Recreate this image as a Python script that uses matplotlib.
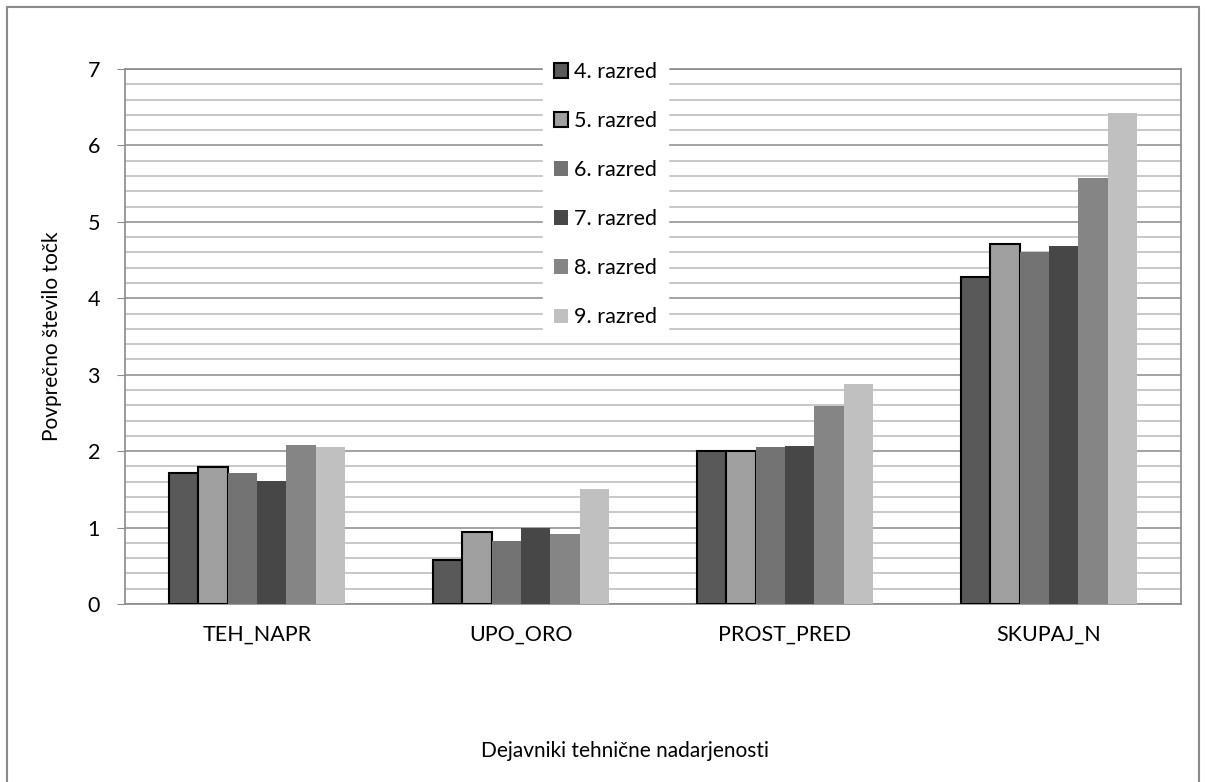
import matplotlib.pyplot as plt
import numpy as np
from matplotlib.patches import Rectangle
from matplotlib.ticker import MultipleLocator

plt.rcParams['font.family'] = ['Lato', 'DejaVu Sans']

# Categories and mean scores per grade
categories = ['TEH_NAPR', 'UPO_ORO', 'PROST_PRED', 'SKUPAJ_N']
grades = ['4. razred', '5. razred', '6. razred', '7. razred', '8. razred', '9. razred']
razred4 = [1.72, 0.58, 2.00, 4.28]
razred5 = [1.79, 0.94, 2.00, 4.71]
razred6 = [1.72, 0.82, 2.05, 4.60]
razred7 = [1.61, 1.00, 2.07, 4.69]
razred8 = [2.08, 0.92, 2.59, 5.58]
razred9 = [2.05, 1.50, 2.88, 6.43]
series = [razred4, razred5, razred6, razred7, razred8, razred9]

colors = ['#595959', '#a0a0a0', '#737373', '#474747', '#858585', '#c0c0c0']
outlined = [True, True, False, False, False, False]

fig = plt.figure(figsize=(12.06, 7.82), dpi=100)
ax = fig.add_axes([0.1036, 0.2276, 0.8757, 0.6842])

x = np.arange(len(categories))
width = 1 / 9
for i, (vals, name) in enumerate(zip(series, grades)):
    offset = (i - 2.5) * width
    if outlined[i]:
        ax.bar(x + offset, vals, width, color=colors[i], edgecolor='black',
               linewidth=1.5, label=name, zorder=3)
    else:
        ax.bar(x + offset, vals, width, color=colors[i], linewidth=0,
               label=name, zorder=3)

ax.set_xlim(-0.5, len(categories) - 0.5)
ax.set_ylim(0, 7)
ax.yaxis.set_major_locator(MultipleLocator(1))
ax.yaxis.set_minor_locator(MultipleLocator(0.2))
ax.grid(which='major', axis='y', color='#8a8a8a', linewidth=1.1, zorder=1)
ax.grid(which='minor', axis='y', color='#c4c4c4', linewidth=1.3, zorder=0)
ax.set_axisbelow(True)

ax.set_xticks(x)
ax.set_xticklabels(categories, fontsize=15.5)
ax.tick_params(axis='x', length=0, pad=15)
ax.tick_params(axis='y', which='major', length=6, color='#8a8a8a',
               labelsize=15.5, pad=12)
ax.tick_params(axis='y', which='minor', length=0)

for side in ['left', 'right', 'bottom', 'top']:
    ax.spines[side].set_color('#8a8a8a')
    ax.spines[side].set_linewidth(1.2)

ax.set_ylabel('Povprečno število točk', fontsize=15, labelpad=18)
fig.text(0.518, 0.040, 'Dejavniki tehnične nadarjenosti', ha='center',
         va='center', fontsize=15)

leg = ax.legend(loc='center', bbox_to_anchor=(0.455, 0.765), ncol=1,
                fontsize=15.5, frameon=True, framealpha=1, edgecolor='white',
                fancybox=False, labelspacing=1.35, handlelength=0.66,
                handleheight=0.66, handletextpad=0.3, borderpad=0.5)
leg.set_zorder(5)

# thin gray frame around the whole chart
fig.patches.append(Rectangle((7 / 1206, -0.05), 1192 / 1206, 1.05 - 7 / 782,
                             transform=fig.transFigure, fill=False,
                             edgecolor='#8a8a8a', linewidth=1.5))

fig.savefig('out.png', dpi=100)
